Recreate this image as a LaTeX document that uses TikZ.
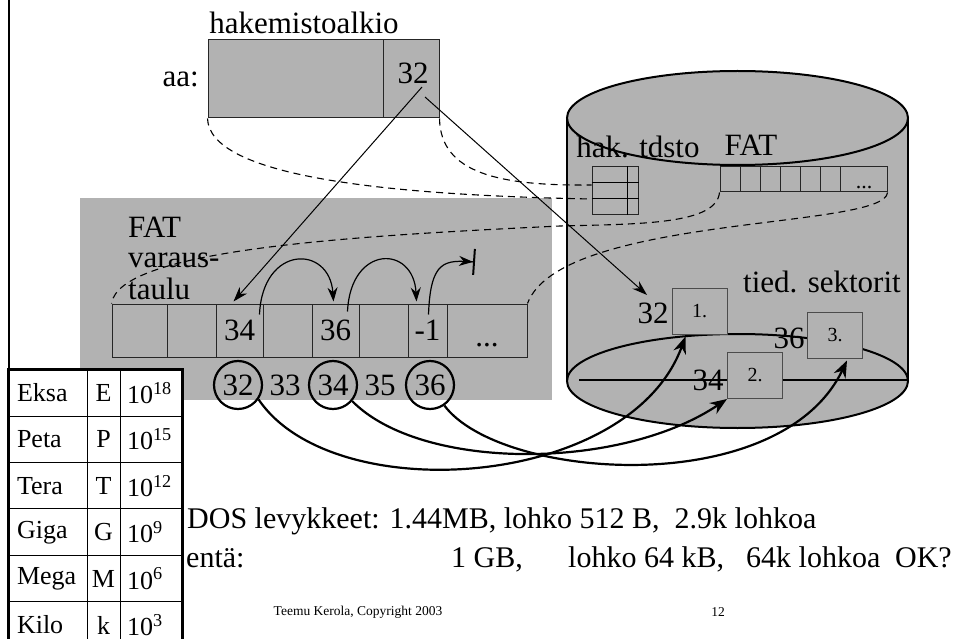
\documentclass[tikz,border=0pt]{standalone}
\usepackage{fontspec}
\setmainfont{Liberation Serif}
\usetikzlibrary{arrows.meta,calc}
\definecolor{panel}{gray}{0.7}
\newcommand\fsz[1]{\fontsize{#1}{#1}\selectfont}

\begin{document}
\begin{tikzpicture}[
    x=1pt,
    y=-1pt,
    lbl/.style={
        font=\fsz{31},
        inner sep=0pt
    },
    note/.style={
        font=\fsz{30},
        inner sep=0pt,
        anchor=base west
    },
    cell/.style={
        draw=black!85,
        fill=panel,
        line width=1pt,
        font=\fsz{31},
        inner sep=0pt
    },
    stripcell/.style={
        draw=black!85,
        line width=1pt,
        minimum width=20pt,
        minimum height=25pt,
        inner sep=0pt
    },
    sector/.style={
        draw=black!70,
        fill=panel,
        line width=1pt,
        minimum width=55pt,
        minimum height=46pt,
        font=\fsz{20},
        inner sep=0pt
    },
    ring/.style={
        circle,
        draw,
        line width=2.2pt,
        minimum size=48pt,
        inner sep=0pt,
        font=\fsz{31}
    },
    unit/.style={
        draw,
        fill=white,
        line width=1pt,
        minimum height=46.5pt,
        font=\fsz{26}
    },
    link/.style={
        dash pattern=on 7pt off 5pt,
        line width=1.1pt
    },
    ptr/.style={
        -{Stealth[length=15pt,width=10pt]},
        line width=1pt
    },
    hop/.style={
        -{Stealth[length=14pt,width=10pt]},
        line width=1.2pt
    },
    map/.style={
        -{Stealth[length=17pt,width=13pt]},
        line width=2.2pt
    }
]

    \clip (0,0) rectangle (956,639);

    % frame edge on the left
    \draw[line width=2.5pt] (9,0) -- (9,372);

    % disk
    \fill[panel] (567,118) rectangle (908,381);
    \fill[panel] (737.5,381) ellipse [x radius=170.5pt, y radius=47pt];
    \draw[line width=2pt, fill=panel] (737.5,118) ellipse [x radius=170.5pt, y radius=47pt];
    \draw[line width=2pt] (737.5,381) ellipse [x radius=170.5pt, y radius=47pt];
    \draw[line width=2pt] (567,118) -- (567,381) (908,118) -- (908,381);
    \draw[line width=2pt] (579,380) -- (908,380);

    % memory area
    \fill[panel] (80,198) rectangle (552,400);

    % directory entry
    \node[lbl] (title) at (304,23) {hakemistoalkio};
    \node[
        cell,
        minimum width=175pt,
        minimum height=78pt
    ] (entry) at (295.5,79) {};
    \node[
        cell,
        minimum width=56pt,
        minimum height=78pt
    ] (ptr) at (411,79) {};
    \node[lbl] (ptrval) at (413,73) {32};
    \node[lbl, anchor=east] (name) at (199,79) {aa:};

    % on the disk
    \node[lbl] (hakttl) at (638,147) {hak. tdsto};
    \node[lbl] (fatttl) at (751,145) {FAT};
    \node[
        draw=black!85,
        line width=1pt,
        minimum width=46pt,
        minimum height=48pt,
        inner sep=0pt
    ] (hak) at (615,191) {};
    \draw[line width=1pt]
        ($(hak.north west)+(36,0)$) -- ($(hak.south west)+(36,0)$)
        ($(hak.north west)+(0,16)$) -- ($(hak.north east)+(0,16)$)
        ($(hak.north west)+(0,32)$) -- ($(hak.north east)+(0,32)$);

    \foreach \i in {1,...,6}
        \node[stripcell] (fc\i) at (710+20*\i,179.5) {};
    \node[stripcell, minimum width=47pt] (sdots) at (863.5,179.5) {};
    \node[lbl, font=\fsz{22}, anchor=base] (sdotstxt) at (864,189) {...};

    % FAT in memory
    \node[lbl, anchor=base west] (fatlbl) at (128,237) {FAT};
    \node[lbl, anchor=base west] (varaus) at (128,268) {varaus-};
    \node[lbl, anchor=base west] (taulu) at (128,299) {taulu};

    \foreach \xa/\xb/\val [count=\i] in
        {112/167/{}, 167/216/{}, 216/263/34, 263/312/{},
         312/359/36, 359/408/{}, 408/447/-1, 447/527/{}}
    {
        \pgfmathsetmacro\w{\xb-\xa}
        \node[
            cell,
            minimum width=\w pt,
            minimum height=53pt
        ] (f\i) at ({(\xa+\xb)/2},330.5) {\val};
    }
    \node[lbl, anchor=base] (fdots) at (487,346) {...};

    \node[ring] (r32) at (238,385) {32};
    \node[lbl] (n33) at (285,385) {33};
    \node[ring] (r34) at (333,385) {34};
    \node[lbl] (n35) at (380,385) {35};
    \node[ring] (r36) at (430,385) {36};

    % data sectors
    \node[lbl] (secttl) at (822,282) {tied. sektorit};
    \node[sector] (sec1) at (699.5,311) {1.};
    \node[sector] (sec2) at (755,375.5) {2.};
    \node[sector] (sec3) at (835,335) {3.};
    \node[lbl] (l32) at (653,313) {32};
    \node[lbl] (l34) at (708,380) {34};
    \node[lbl] (l36) at (789,338) {36};

    % prefixes
    \foreach \uname/\usym/\uexp [count=\row from 0] in
        {Eksa/E/18, Peta/P/15, Tera/T/12, Giga/G/9, Mega/M/6, Kilo/k/3}
    {
        \pgfmathsetmacro\yc{393+46.4*\row}
        \node[
            unit,
            minimum width=78pt,
            text width=62pt,
            inner xsep=8pt,
            align=left
        ] (nm\row) at (48,\yc) {\uname};
        \node[
            unit,
            minimum width=33pt,
            inner xsep=0pt
        ] (sy\row) at (103.5,\yc) {\usym};
        \node[
            unit,
            minimum width=62pt,
            text width=48pt,
            inner xsep=7pt,
            align=left
        ] (ex\row) at (151,\yc) {10\textsuperscript{\uexp}};
    }
    \draw[line width=2.5pt] (nm0.north west) rectangle (ex5.south east);

    % text lines
    \node[note] (dos) at (187,528)
        {DOS levykkeet: 1.44MB, lohko 512 B,\ \ 2.9k lohkoa};
    \node[note] (enta) at (186,567) {entä:};
    \node[note] (gb) at (451,567) {1 GB,};
    \node[note] (blk) at (568,567) {lohko 64 kB,};
    \node[note] (cnt) at (746,567) {64k lohkoa};
    \node[note, anchor=base east] (ok) at (952,567) {OK?};

    \node[lbl, font=\fsz{13.5}] (copy) at (358,612) {Teemu Kerola, Copyright 2003};
    \node[lbl, font=\fsz{13.5}] (page) at (718,612) {12};

    % dashed: where things live on disk
    \coordinate (bend) at (560,226);
    \coordinate (stop) at (475,262);

    \draw[link] (entry.south west)
        .. controls +(2,57) and +(-212,-4) .. ($(hak.west)+(0,8)$);
    \draw[link] (ptr.south east)
        .. controls +(1,55) and +(-92,1) .. ($(hak.west)+(0,-6)$);
    \draw[link] (fc1.south west)
        .. controls +(-3,32) and +(80,-2) .. (bend)
        .. controls +(-210,10) and +(8,-54) .. (f1.north west);
    \draw[link] (sdots.south east)
        .. controls +(-2,37) and +(33,-89) .. (f8.north east);

    % first block
    \draw[ptr] ($(ptr.center)+(11,8)$) -- ($(f3.north)+(-6,-2)$);
    \draw[ptr] ($(ptr.center)+(14,18)$) -- ($(l32.center)+(-6,-18)$);

    % chain in FAT
    \draw[hop] ($(f3.north east)+(-4,11)$)
        .. controls +(3,-70) and +(-4,-57) .. ($(f5.north west)+(22,-2)$);
    \draw[hop] ($(f5.north east)+(-12,8)$)
        .. controls +(3,-67) and +(-3,-57) .. ($(f7.north west)+(9,-2)$);
    \draw[
        hop,
        -{Stealth[length=14pt,width=10pt] Bar[width=26pt,line width=2pt]}
    ] ($(f7.north east)+(-19,11)$)
        .. controls +(2,-55) and +(-30,-2) .. (stop);

    % blocks to sectors
    \draw[map] (r32.-35)
        .. controls +(74,110) and +(-56,153) .. ($(sec1.south west)+(14,2)$);
    \draw[map] (r34.-40)
        .. controls +(69,70) and +(-107,72) .. (sec2.south west);
    \draw[map] (r36.-55)
        .. controls +(56,75) and +(-67,140) .. ($(sec3.south)+(12,2)$);

\end{tikzpicture}
\end{document}
